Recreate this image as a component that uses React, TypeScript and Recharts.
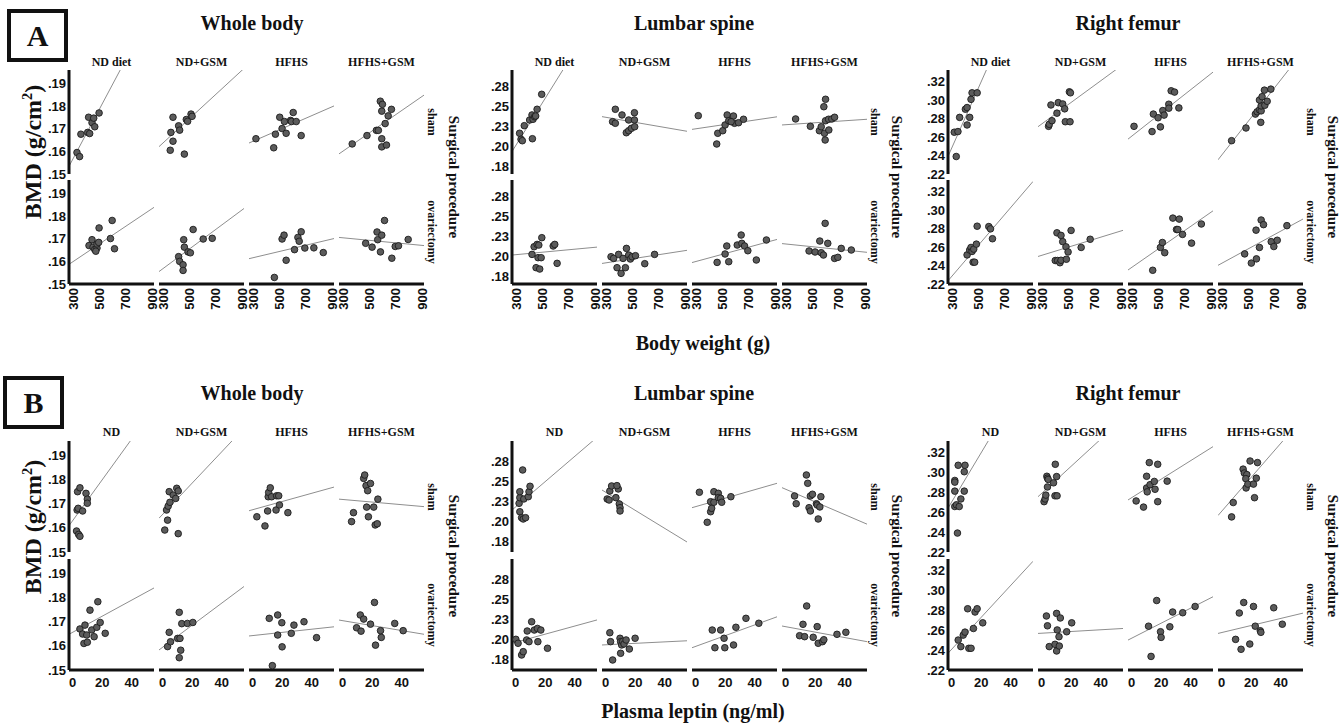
import React from "react";
import { ScatterChart, Scatter, XAxis, YAxis, ReferenceLine } from "recharts";

type Pt = [number, number];
type Fit = [number, number]; // fitted BMD at the left and right end of the x domain

const dietA = ["ND diet", "ND+GSM", "HFHS", "HFHS+GSM"];
const dietB = ["ND", "ND+GSM", "HFHS", "HFHS+GSM"];
const sites = ["Whole body", "Lumbar spine", "Right femur"];
const procedures = ["sham", "ovariectomy"];

const weightTicks = [300, 500, 700, 900];
const leptinTicks = [0, 20, 40];
const wholeTicks = [0.15, 0.16, 0.17, 0.18, 0.19];
const lumbarTicks = [0.175, 0.2, 0.225, 0.25, 0.275];
const femurTicks = [0.22, 0.24, 0.26, 0.28, 0.3, 0.32];

// ---- A: body weight (g) vs BMD, one list per diet group ----
const wtWholeSham: Pt[][] = [
  [[326, .1595], [346, .1577], [356, .1676], [408, .1684], [415, .1751], [441, .1727], [454, .1747], [462, .1709], [423, .1679], [495, .177]],
  [[351, .1605], [356, .1684], [372, .1645], [372, .1751], [415, .1713], [423, .1694], [459, .1588], [474, .1741], [484, .1733], [510, .1765], [518, .1755]],
  [[318, .1656], [454, .1616], [467, .1676], [500, .1751], [518, .1701], [536, .1732], [549, .168], [583, .1737], [590, .1732], [603, .1772], [626, .1732], [664, .167]],
  [[366, .1633], [479, .167], [551, .1693], [566, .1693], [581, .1822], [597, .1808], [592, .1778], [592, .1656], [592, .162], [628, .1628], [618, .1723], [641, .1757], [666, .1786]],
];
const wtWholeOvx: Pt[][] = [
  [[418, .167], [441, .1696], [449, .1663], [462, .1653], [479, .1659], [479, .1677], [492, .1684], [495, .1748], [582, .1701], [595, .1781], [613, .1656], [470, .1645]],
  [[415, .1621], [423, .16], [449, .1585], [449, .156], [459, .1663], [454, .1696], [487, .1642], [505, .1638], [526, .1741], [603, .1699], [672, .1702]],
  [[459, .1529], [518, .1699], [533, .1716], [549, .1605], [613, .1652], [639, .1706], [649, .1689], [664, .1731], [692, .1659], [761, .166], [833, .1639]],
  [[469, .168], [518, .1663], [556, .173], [561, .1696], [582, .1642], [592, .1716], [613, .1781], [669, .1614], [695, .1666], [720, .1669], [794, .1697]],
];
const wtLumbarSham: Pt[][] = [
  [[323, .2159], [334, .2084], [344, .2066], [359, .2254], [400, .2325], [418, .2388], [426, .2334], [438, .2366], [457, .2459], [421, .2091], [492, .2646], [446, .2375]],
  [[346, .2304], [367, .2284], [367, .2459], [418, .2388], [451, .2166], [469, .2191], [469, .2325], [490, .2221], [513, .2416], [513, .2325], [515, .2241]],
  [[313, .2379], [454, .2025], [462, .2159], [500, .2191], [518, .2263], [534, .2388], [546, .2316], [582, .2375], [590, .2284], [564, .2304], [621, .2291], [659, .2334]],
  [[369, .2338], [482, .2246], [551, .2191], [565, .2241], [585, .2491], [598, .2584], [590, .2159], [595, .2075], [598, .2316], [623, .22], [621, .2334], [646, .2338], [667, .2359]],
];
const wtLumbarOvx: Pt[][] = [
  [[418, .202], [434, .2116], [449, .1854], [464, .1979], [477, .1837], [457, .2145], [470, .2137], [493, .2229], [488, .1979], [580, .2125], [592, .2145], [610, .1908]],
  [[334, .1991], [354, .197], [380, .1854], [392, .202], [411, .1783], [426, .197], [444, .1854], [452, .2095], [469, .2012], [482, .1962], [495, .199], [521, .2004], [592, .1904], [667, .202]],
  [[457, .192], [518, .2025], [531, .2125], [546, .1929], [611, .2137], [641, .2262], [646, .2158], [667, .2125], [692, .2066], [757, .195], [834, .22]],
  [[472, .2063], [518, .205], [554, .2187], [565, .2041], [582, .2012], [595, .2408], [615, .2158], [667, .197], [692, .1983], [718, .2095], [795, .2075]],
];
const wtFemurSham: Pt[][] = [
  [[328, .239], [313, .2654], [341, .2661], [354, .2815], [398, .2904], [411, .2922], [411, .2733], [431, .2815], [441, .3011], [449, .3082], [488, .3082]],
  [[346, .2718], [351, .274], [372, .2779], [364, .295], [410, .2861], [420, .2975], [454, .2961], [469, .2908], [474, .2768], [510, .2768], [505, .3093], [513, .3082]],
  [[311, .2718], [449, .2661], [459, .2851], [495, .2811], [513, .2712], [531, .2889], [541, .284], [577, .2958], [577, .2915], [595, .3104], [621, .309], [654, .2918]],
  [[369, .2562], [479, .27], [551, .2851], [564, .2876], [582, .2897], [595, .2886], [592, .2761], [595, .294], [582, .3004], [602, .304], [620, .3111], [623, .2947], [641, .299], [669, .3122]],
];
const wtFemurOvx: Pt[][] = [
  [[411, .2516], [431, .2569], [441, .2597], [449, .2554], [462, .2579], [457, .2437], [469, .2437], [482, .2633], [488, .2828], [577, .2824], [590, .2799], [605, .2692]],
  [[397, .2455], [415, .2455], [433, .2431], [441, .2458], [482, .2469], [410, .2756], [441, .2728], [454, .266], [479, .2604], [495, .2548], [518, .2782], [595, .2597], [664, .2686]],
  [[454, .2349], [513, .2597], [528, .2651], [546, .254], [608, .2916], [657, .2905], [636, .2792], [646, .2792], [682, .2739], [751, .2644], [826, .2852]],
  [[469, .2527], [520, .2427], [559, .2473], [556, .2785], [582, .2597], [595, .2895], [613, .2845], [672, .266], [692, .2607], [718, .2675], [792, .2834]],
];
const wtWholeShamFit: Fit[] = [[.1534, .2241], [.1621, .1967], [.1637, .1801], [.1589, .1849]];
const wtWholeOvxFit: Fit[] = [[.1587, .1839], [.1555, .1834], [.1612, .1701], [.1706, .167]];
const wtLumbarShamFit: Fit[] = [[.1931, .3634], [.2367, .2184], [.2208, .2365], [.2263, .2334]];
const wtLumbarOvxFit: Fit[] = [[.2012, .2111], [.1907, .2071], [.1918, .2207], [.2155, .2046]];
const wtFemurShamFit: Fit[] = [[.2391, .4471], [.2714, .339], [.2579, .3307], [.2354, .3531]];
const wtFemurOvxFit: Fit[] = [[.2235, .3314], [.2499, .2783], [.2352, .2995], [.2403, .2906]];

// ---- B: plasma leptin (ng/ml) vs BMD ----
const lepWholeSham: Pt[][] = [
  [[2.6, .1587], [4, .1573], [4.9, .1565], [3, .1674], [3.7, .1681], [3.3, .175], [4.9, .1766], [6.7, .167], [9, .1743], [9.9, .1719], [9.9, .1702]],
  [[1.4, .1591], [3.3, .1632], [2.6, .1674], [3.7, .169], [4.9, .1706], [4.4, .175], [7.1, .1736], [8.8, .1722], [9.5, .1764], [10.5, .1753], [10.5, .1576]],
  [[2.8, .1646], [8.3, .1608], [10.1, .167], [10.5, .1729], [10.8, .1747], [11.9, .1766], [12.8, .1729], [15.8, .1674], [16.2, .1733], [17.6, .1733], [18.1, .1695], [23.8, .1663]],
  [[6, .1626], [7.3, .1663], [14.2, .1805], [14.9, .1819], [15.8, .1775], [16.9, .1754], [18.8, .1784], [16.2, .1686], [17.4, .1646], [21, .1686], [22, .1612], [23.4, .1617], [23.8, .1719]],
];
const lepWholeOvx: Pt[][] = [
  [[4.9, .167], [6.7, .1649], [7.6, .161], [8.3, .1686], [9.9, .1615], [9.5, .1645], [11.7, .1748], [12.9, .1666], [14.5, .1638], [16.3, .1677], [17, .1783], [18.6, .1697], [22, .1652]],
  [[3.3, .1597], [4.4, .1656], [5.3, .1617], [10.1, .1631], [11.2, .1551], [11.7, .1631], [11.2, .1739], [12.2, .1582], [12.9, .1692], [16.7, .1693], [20.4, .1697]],
  [[11.2, .1714], [13.3, .1518], [16.9, .1728], [16.9, .1645], [19.7, .1696], [19.9, .1596], [26.1, .1652], [27.9, .1686], [34.7, .17], [43.2, .1634]],
  [[9.4, .1675], [11.9, .1728], [12.4, .1661], [14.2, .1711], [18.8, .169], [21.5, .178], [22.2, .1603], [25.6, .1663], [26.1, .1635], [35.2, .1693], [40.9, .1663]],
];
const lepLumbarSham: Pt[][] = [
  [[2.8, .2124], [4, .205], [5.1, .2034], [6.7, .205], [2.3, .2228], [2.8, .2298], [2.8, .2372], [4.7, .2641], [5.5, .2282], [8.5, .231], [9, .2372], [9.7, .2439]],
  [[1, .2282], [2.3, .2269], [2.8, .238], [4, .2443], [6.9, .2298], [8.5, .2406], [9.2, .222], [9.7, .2174], [9.7, .2133], [7.6, .2447]],
  [[2.5, .2365], [7.8, .1993], [10.1, .2124], [10.8, .2166], [10.1, .2248], [12.3, .2241], [12.3, .2372], [15.3, .2352], [15.3, .2298], [16.9, .229], [17.6, .2241], [23.8, .231]],
  [[6, .2319], [7.1, .2223], [14, .2579], [14.9, .2476], [15.8, .2174], [16.7, .2133], [16.7, .2319], [18.1, .234], [20.8, .2223], [21.3, .2207], [22, .2034], [23.1, .2183], [23.8, .231]],
];
const lepLumbarOvx: Pt[][] = [
  [[0.1, .2005], [1.6, .1956], [4, .1811], [5.1, .1852], [7.4, .1997], [7.8, .2108], [9, .1976], [10.8, .2223], [12.6, .212], [14.7, .214], [17, .212], [21.5, .1894], [15, .1976]],
  [[2.8, .2087], [3.3, .1976], [4.7, .1749], [9.7, .2018], [10.1, .1976], [10.1, .1832], [10.8, .1935], [11.5, .198], [12.4, .1947], [13.8, .1997], [16, .1885], [19.9, .2018]],
  [[11.2, .212], [13, .1901], [16.9, .212], [19.2, .2018], [19.7, .1901], [25.6, .1935], [27.2, .2154], [34, .2265], [42.7, .2204]],
  [[9.4, .205], [11.7, .2191], [12.8, .2038], [14.2, .2418], [18.6, .203], [21.3, .2162], [22, .1956], [24.9, .1976], [25.8, .2], [34.7, .2067], [40.7, .2092]],
];
const lepFemurSham: Pt[][] = [
  [[3.9, .2391], [2.1, .2659], [3.2, .2676], [2.1, .2814], [2.1, .2922], [2.1, .2905], [4.4, .3075], [9, .3075], [8.5, .301], [6.2, .2735], [8.5, .2814], [5.1, .2659]],
  [[1.6, .2708], [2.3, .2735], [2.8, .2774], [3.9, .2856], [3.5, .2964], [3.9, .2945], [4.4, .2932], [8, .2898], [9, .2767], [10.4, .2767], [9.2, .3085], [10.1, .2961]],
  [[3, .2715], [8, .2653], [10.1, .2964], [10.1, .2846], [10.5, .2807], [11.9, .3102], [12.4, .2879], [15.3, .2912], [15.8, .2833], [17.6, .3085], [17.6, .2708], [24, .2915]],
  [[6.7, .2554], [7.8, .2699], [14.5, .3036], [15.3, .2997], [16.5, .2846], [17, .2981], [16.3, .294], [17.7, .2885], [19.2, .3118], [21.5, .2885], [22.2, .2748], [23.4, .2945], [24.2, .3102]],
];
const lepFemurOvx: Pt[][] = [
  [[4.4, .2502], [6.2, .2436], [7.8, .2552], [9, .2582], [10.8, .2818], [11.6, .2419], [13.1, .2419], [14.7, .2619], [15.8, .2785], [17.2, .2818], [21, .2676]],
  [[3.2, .2745], [3.9, .2646], [5.1, .2436], [9, .2459], [10.1, .2771], [10.5, .2604], [10.1, .2392], [11.7, .2536], [12.6, .2725], [11.9, .2442], [16.9, .2586], [20.3, .2676]],
  [[11.4, .2642], [13.1, .2337], [16.9, .2901], [19.5, .2586], [19.9, .2529], [25.8, .2636], [27.7, .2785], [34.5, .2778], [42.9, .2841]],
  [[9.4, .2509], [11.9, .2775], [13.1, .2409], [14.9, .2881], [19, .2462], [21.5, .2841], [22.7, .2642], [26.1, .2596], [26.5, .258], [35.2, .2828], [41, .2662]],
];
const lepWholeShamFit: Fit[] = [[.1609, .2096], [.164, .2013], [.1671, .1769], [.1719, .1688]];
const lepWholeOvxFit: Fit[] = [[.1648, .184], [.1583, .1846], [.1641, .1679], [.1707, .1648]];
const lepLumbarShamFit: Fit[] = [[.2145, .3046], [.2393, .1749], [.2174, .2476], [.2422, .197]];
const lepLumbarOvxFit: Fit[] = [[.1956, .2245], [.1935, .1987], [.1901, .2284], [.217, .1976]];
const lepFemurShamFit: Fit[] = [[.2643, .4074], [.2758, .3545], [.2725, .3263], [.2568, .3555]];
const lepFemurOvxFit: Fit[] = [[.2369, .3297], [.2569, .2619], [.2502, .2939], [.2569, .2774]];

const SERIF = '"Liberation Serif", "Times New Roman", serif';
const SANS = '"Liberation Sans", Arial, sans-serif';
const INK = "#111";
const axisStyle = { stroke: INK, strokeWidth: 3 };

const fmtBmd = (v: number) => (v + 1e-9).toFixed(2).replace(/^0/, "");

const Dot = (p: any) => (
  <circle cx={p.cx} cy={p.cy} r={3.3} fill="#5b5b5b" stroke="#1c1c1c" strokeWidth={0.9} />
);

const YTick = ({ x, y, payload }: any) => (
  <text x={x} y={y} textAnchor="end" dominantBaseline="central" fontFamily={SANS} fontWeight="bold" fontSize={13} fill={INK}>
    {fmtBmd(payload.value)}
  </text>
);

const XTickRot = ({ x, y, payload }: any) => (
  <text transform={`translate(${x},${y}) rotate(-90)`} textAnchor="end" dominantBaseline="central" fontFamily={SANS} fontWeight="bold" fontSize={13} fill={INK}>
    {payload.value}
  </text>
);

const XTickFlat = ({ x, y, payload }: any) => (
  <text x={x} y={y} textAnchor="middle" dominantBaseline="hanging" fontFamily={SANS} fontWeight="bold" fontSize={13} fill={INK}>
    {payload.value}
  </text>
);

type FacetProps = {
  left: number; top: number; w: number; h: number;
  pts: Pt[]; fit: Fit;
  xDomain: [number, number]; yDomain: [number, number];
  xTicks: number[]; yTicks: number[];
  showY: boolean; xMode: "none" | "rot" | "flat";
};

function Facet(p: FacetProps) {
  const yW = p.showY ? 36 : 0;
  const xH = p.xMode === "none" ? 0 : 28;
  const m = { top: 2, right: 2, bottom: 2, left: 2 };
  const data = p.pts.map(([x, y]) => ({ x, y }));
  const xTick = p.xMode === "rot" ? <XTickRot /> : p.xMode === "flat" ? <XTickFlat /> : false;
  return (
    <div style={{ position: "absolute", left: p.left - yW - m.left, top: p.top - m.top }}>
      <ScatterChart width={m.left + yW + p.w + m.right} height={m.top + p.h + xH + m.bottom} margin={m}>
        <XAxis type="number" dataKey="x" domain={p.xDomain} ticks={p.xTicks} allowDataOverflow interval={0}
          height={xH} tickSize={0} tickMargin={p.xMode === "rot" ? 4 : 7} tickLine={false} axisLine={axisStyle} tick={xTick} />
        <YAxis type="number" dataKey="y" domain={p.yDomain} ticks={p.yTicks} allowDataOverflow interval={0}
          width={yW} tickSize={0} tickMargin={3} tickLine={false} axisLine={axisStyle} tick={p.showY ? <YTick /> : false} />
        <ReferenceLine segment={[{ x: p.xDomain[0], y: p.fit[0] }, { x: p.xDomain[1], y: p.fit[1] }]}
          ifOverflow="hidden" stroke="#8e8e8e" strokeWidth={1} />
        <Scatter data={data} shape={Dot} isAnimationActive={false} />
      </ScatterChart>
    </div>
  );
}

function Txt({ x, y, size, rot = 0, font = SERIF, children }: any) {
  return (
    <div style={{
      position: "absolute", left: x, top: y, transform: `translate(-50%,-50%) rotate(${rot}deg)`,
      fontFamily: font, fontWeight: 700, fontSize: size, whiteSpace: "nowrap", color: INK, lineHeight: 1,
    }}>
      {children}
    </div>
  );
}

const siteLeft = [69, 512, 948];
const COL = 90;
const PW = 85;

type PanelProps = {
  letter: string; boxTop: number; boxLeft: number;
  titleY: number; colTitleY: number; rowTops: number[]; ph: number;
  groups: string[];
  sham: Pt[][][]; ovx: Pt[][][]; shamFit: Fit[][]; ovxFit: Fit[][];
  xDomain: [number, number]; xTicks: number[]; yDomains: [number, number][];
  xMode: "rot" | "flat"; bmdY: number; xTitle: string; xTitleX: number; xTitleY: number;
};

const yTickSets = [wholeTicks, lumbarTicks, femurTicks];
const titleX = [252, 694, 1128];

function Panel(p: PanelProps) {
  const facets: any[] = [];
  const texts: any[] = [];
  sites.forEach((site, s) => {
    const right = siteLeft[s] + 3 * COL + PW;
    texts.push(<Txt key={`t${s}`} x={titleX[s]} y={p.titleY} size={20}>{site}</Txt>);
    texts.push(<Txt key={`sp${s}`} x={right + 29} y={(p.rowTops[0] + p.rowTops[1] + p.ph) / 2} size={15} rot={90}>Surgical procedure</Txt>);
    procedures.forEach((proc, r) => {
      texts.push(<Txt key={`p${s}${r}`} x={right + 8} y={p.rowTops[r] + p.ph / 2} size={12} rot={90}>{proc}</Txt>);
    });
    p.groups.forEach((g, c) => {
      const left = siteLeft[s] + c * COL;
      texts.push(<Txt key={`g${s}${c}`} x={left + PW / 2} y={p.colTitleY} size={12}>{g}</Txt>);
      [p.sham, p.ovx].forEach((set, r) => {
        const fits = r === 0 ? p.shamFit : p.ovxFit;
        facets.push(
          <Facet key={`f${s}${c}${r}`} left={left} top={p.rowTops[r]} w={PW} h={p.ph}
            pts={set[s][c]} fit={fits[s][c]} xDomain={p.xDomain} yDomain={p.yDomains[s]}
            xTicks={p.xTicks} yTicks={yTickSets[s]} showY={c === 0} xMode={r === 1 ? p.xMode : "none"} />
        );
      });
    });
  });
  return (
    <>
      <div style={{
        position: "absolute", left: p.boxLeft, top: p.boxTop, width: 53, height: 45, border: `4px solid ${INK}`,
        display: "flex", alignItems: "center", justifyContent: "center",
        fontFamily: SERIF, fontWeight: 700, fontSize: 30, color: INK,
      }}>{p.letter}</div>
      {texts}
      <Txt x={32} y={p.bmdY} size={24} rot={-90}>BMD (g/cm<sup style={{ fontSize: "0.6em" }}>2</sup>)</Txt>
      <Txt x={p.xTitleX} y={p.xTitleY} size={20}>{p.xTitle}</Txt>
      {facets}
    </>
  );
}

export default function App() {
  return (
    <div style={{ position: "absolute", left: 0, top: 0, width: 1341, height: 723, background: "#fff", overflow: "hidden" }}>
      <style>{".recharts-surface{overflow:visible}"}</style>
      <Panel letter="A" boxLeft={7} boxTop={9} titleY={23} colTitleY={62} rowTops={[70, 180]} ph={104}
        groups={dietA}
        sham={[wtWholeSham, wtLumbarSham, wtFemurSham]} ovx={[wtWholeOvx, wtLumbarOvx, wtFemurOvx]}
        shamFit={[wtWholeShamFit, wtLumbarShamFit, wtFemurShamFit]} ovxFit={[wtWholeOvxFit, wtLumbarOvxFit, wtFemurOvxFit]}
        xDomain={[265, 915]} xTicks={weightTicks} yDomains={[[0.15, 0.196], [0.165, 0.295], [0.22, 0.333]]}
        xMode="rot" bmdY={152} xTitle="Body weight (g)" xTitleX={703} xTitleY={343} />
      <Panel letter="B" boxLeft={3} boxTop={376} titleY={393} colTitleY={432} rowTops={[441, 559]} ph={111}
        groups={dietB}
        sham={[lepWholeSham, lepLumbarSham, lepFemurSham]} ovx={[lepWholeOvx, lepLumbarOvx, lepFemurOvx]}
        shamFit={[lepWholeShamFit, lepLumbarShamFit, lepFemurShamFit]} ovxFit={[lepWholeOvxFit, lepLumbarOvxFit, lepFemurOvxFit]}
        xDomain={[-2.5, 55]} xTicks={leptinTicks} yDomains={[[0.15, 0.196], [0.1625, 0.3], [0.22, 0.332]]}
        xMode="flat" bmdY={527} xTitle="Plasma leptin (ng/ml)" xTitleX={693} xTitleY={711} />
    </div>
  );
}
